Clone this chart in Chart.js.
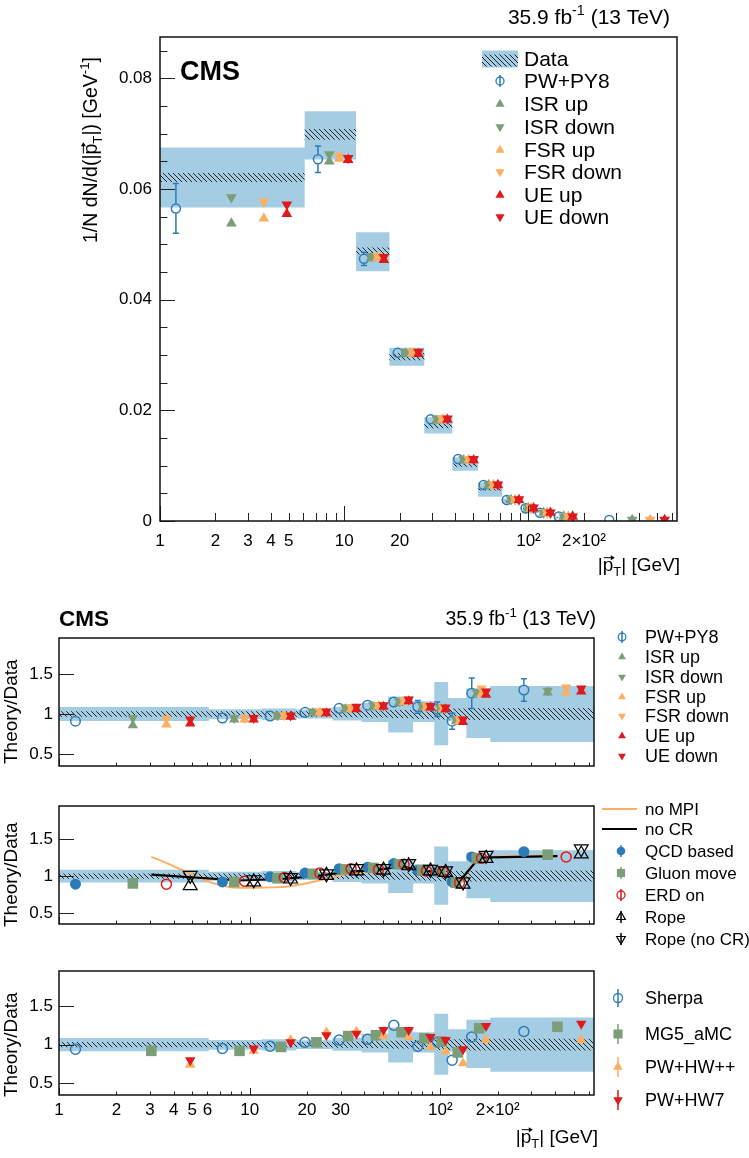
<!DOCTYPE html>
<html>
<head>
<meta charset="utf-8">
<title>CMS |pT| distribution</title>
<script src="https://cdn.jsdelivr.net/npm/chart.js@4.4.1/dist/chart.umd.min.js"></script>
<style>
  html, body { margin: 0; padding: 0; background: #fff; }
  #page { position: relative; width: 749px; height: 1158px; overflow: hidden; }
  #page canvas { position: absolute; left: 0; }
</style>
</head>
<body>
<div id="page">
  <canvas id="mainChart" width="749" height="590" style="top:0px"></canvas>
  <canvas id="ratioPy8" width="749" height="200" style="top:590px"></canvas>
  <canvas id="ratioCR" width="749" height="170" style="top:790px"></canvas>
  <canvas id="ratioGen" width="749" height="198" style="top:960px"></canvas>
</div>
<script>
// ---- binning and measurement ----
const X_MIN = 1, X_MAX = 640;
const binEdges = [0, 6.1, 11.6, 17.6, 27.2, 38.6, 53.3, 72, 93, 110, 137, 183, 640];
const dataVal = [0.0621, 0.0699, 0.0488, 0.0297, 0.0172, 0.0101, 0.0057, 0.0035, 0.0022, 0.00165, 0.00063, 0.00015];
const relTotUp   = [0.087, 0.06, 0.07, 0.055, 0.09, 0.14, 0.22, 0.16, 0.4, 0.2, 0.32, 0.35];
const relTotDown = [0.087, 0.065, 0.075, 0.055, 0.08, 0.1, 0.23, 0.1, 0.39, 0.09, 0.3, 0.35];
const relStatTop   = [0.013, 0.014, 0.013, 0.022, 0.025, 0.03, 0.035, 0.04, 0.05, 0.05, 0.06, 0.06];
const relStatRatio = [0.035, 0.035, 0.035, 0.035, 0.04, 0.045, 0.05, 0.06, 0.07, 0.07, 0.075, 0.075];

// ---- top panel predictions ----
const pwpy8Top    = [0.0565, 0.0654, 0.0474, 0.0304, 0.0184, 0.0112, 0.0065, 0.0038, 0.0023, 0.0015, 0.0008, 0.0002];
const pwpy8TopErr = [0.0045, 0.0024, 0.0012, 0.0004, 0.0003, 0.0002, 0.0002, 0.0002, 0.0001, 0.0001, 0.0001, 0.00003];
const isrUpTop    = [0.0538, 0.0650, 0.0475, 0.0302, 0.0182, 0.0110, 0.0065, 0.0038, 0.0023, 0.0015, 0.0008, 0.0002];
const isrDownTop  = [0.0585, 0.0663, 0.0479, 0.0306, 0.0185, 0.0112, 0.0066, 0.0039, 0.0024, 0.0015, 0.0008, 0.0002];
const fsrUpTop    = [0.0547, 0.0655, 0.0476, 0.0303, 0.0183, 0.0111, 0.0065, 0.0038, 0.0023, 0.0015, 0.0008, 0.0002];
const fsrDownTop  = [0.0577, 0.0660, 0.0479, 0.0306, 0.0185, 0.0112, 0.0066, 0.0039, 0.0024, 0.0015, 0.0008, 0.0002];
const ueUpTop     = [0.0555, 0.0653, 0.0472, 0.0302, 0.0183, 0.0110, 0.0065, 0.0038, 0.0023, 0.0015, 0.0008, 0.0002];
const ueDownTop   = [0.0572, 0.0656, 0.0477, 0.0306, 0.0185, 0.0112, 0.0066, 0.0039, 0.0024, 0.0015, 0.0008, 0.0002];

// ---- ratio panel 1: PW+PY8 variations ----
const r1PwPy8    = [0.91, 0.95, 0.975, 1.02, 1.07, 1.11, 1.15, 1.09, 1.06, 0.91, 1.26, 1.30];
const r1PwPy8Err = [0.02, 0.01, 0.01, 0.01, 0.01, 0.015, 0.02, 0.08, 0.09, 0.1, 0.19, 0.14];
const r1IsrUp    = [0.86, 0.93, 0.97, 1.01, 1.06, 1.09, 1.14, 1.08, 1.06, 0.91, 1.25, 1.27];
const r1IsrDown  = [0.95, 0.95, 0.985, 1.03, 1.08, 1.11, 1.16, 1.10, 1.08, 0.93, 1.27, 1.29];
const r1FsrUp    = [0.87, 0.93, 0.975, 1.02, 1.06, 1.10, 1.15, 1.08, 1.06, 0.91, 1.25, 1.27];
const r1FsrDown  = [0.94, 0.95, 0.985, 1.03, 1.08, 1.11, 1.17, 1.10, 1.08, 0.93, 1.32, 1.33];
const r1UeUp     = [0.88, 0.93, 0.965, 1.01, 1.06, 1.09, 1.16, 1.08, 1.06, 0.90, 1.24, 1.28];
const r1UeDown   = [0.93, 0.95, 0.98, 1.03, 1.09, 1.11, 1.18, 1.10, 1.08, 0.93, 1.28, 1.32];

// ---- ratio panel 2: colour reconnection models ----
const r2Qcd      = [0.89, 0.92, 0.99, 1.04, 1.10, 1.12, 1.17, 1.08, 1.06, 0.92, 1.26, 1.33];
const r2Gluon    = [0.90, 0.92, 0.97, 1.03, 1.09, 1.11, 1.16, 1.08, 1.06, 0.91, 1.24, 1.29];
const r2Erd      = [0.89, 0.93, 0.98, 1.04, 1.10, 1.09, 1.16, 1.07, 1.06, 0.91, 1.24, 1.26];
const r2Rope     = [0.87, 0.92, 0.96, 1.01, 1.07, 1.08, 1.14, 1.07, 1.05, 0.89, 1.24, 1.30];
const r2RopeNoCR = [1.01, 0.95, 0.98, 1.03, 1.10, 1.10, 1.17, 1.09, 1.07, 0.92, 1.28, 1.37];
const r2NoMpi    = [1.26, 0.84, 0.85, 0.93, 1.03, 1.07, 1.13, 1.07, 1.05, 0.90, 1.25, 1.28];
const r2NoCR     = [1.02, 0.94, 0.96, 1.00, 1.06, 1.08, 1.13, 1.07, 1.05, 0.90, 1.25, 1.27];

// ---- ratio panel 3: other generators ----
const r3Sherpa    = [0.94, 0.95, 0.98, 1.03, 1.06, 1.07, 1.25, 0.98, 1.03, 0.80, 1.10, 1.17];
const r3SherpaErr = [0.01, 0.01, 0.01, 0.01, 0.01, 0.01, 0.02, 0.03, 0.04, 0.05, 0.06, 0.06];
const r3Mg5       = [0.92, 0.92, 0.97, 1.03, 1.11, 1.12, 1.16, 1.08, 1.04, 0.90, 1.21, 1.23];
const r3HwPP      = [0.74, 0.92, 1.06, 1.16, 1.17, 1.11, 1.10, 0.97, 0.91, 0.76, 1.06, 1.06];
const r3Hw7       = [0.80, 0.95, 1.03, 1.12, 1.14, 1.19, 1.19, 1.10, 1.06, 0.94, 1.24, 1.27];

// ---- axis ticks ----
const xTickValues = [];
[1, 10, 100].forEach(d => { for (let m = 1; m <= 9; m++) if (m * d <= X_MAX) xTickValues.push(m * d); });
const xLabelsTop = {1: '1', 2: '2', 3: '3', 4: '4', 5: '5', 10: '10', 20: '20', 100: '10²', 200: '2×10²'};
const xLabelsBottom = {1: '1', 2: '2', 3: '3', 4: '4', 5: '5', 6: '6', 10: '10', 20: '20', 30: '30', 100: '10²', 200: '2×10²'};
const yTicksTop = [];
for (let i = 0; i <= 17; i++) yTicksTop.push(+(i * 0.005).toFixed(3));
const yTicksRatio = [0.5, 1, 1.5];

// ---- style ----
const FONT = '"Liberation Sans", Arial, Helvetica, sans-serif';
const BAND = '#a4cde4';
const BLUE = '#2c7bb9';
const GREEN = '#7b9e78';
const ORANGE = '#fdae61';
const RED = '#df1a1d';

function makeHatch(ctx) {
  const t = document.createElement('canvas');
  t.width = 5; t.height = 5;
  const c = t.getContext('2d');
  c.strokeStyle = '#222';
  c.lineWidth = 1;
  c.beginPath();
  c.moveTo(-1, -1); c.lineTo(6, 6);
  c.moveTo(-1, 4); c.lineTo(1, 6);
  c.moveTo(4, -1); c.lineTo(6, 1);
  c.stroke();
  return ctx.createPattern(t, 'repeat');
}

function stepPoints(vals) {
  const pts = vals.map((v, i) => ({x: Math.max(binEdges[i], X_MIN), y: v}));
  pts.push({x: binEdges[binEdges.length - 1], y: vals[vals.length - 1]});
  return pts;
}
function inBin(i, f) { return binEdges[i] + f * (binEdges[i + 1] - binEdges[i]); }
function pts(vals, f) { return vals.map((v, i) => ({x: inBin(i, f), y: v})); }

function band(lo, hi, color) {
  const common = {type: 'line', stepped: 'before', borderWidth: 0, borderColor: 'rgba(0,0,0,0)', pointRadius: 0, layer: 'band'};
  return [
    Object.assign({data: stepPoints(hi), fill: false}, common),
    Object.assign({data: stepPoints(lo), fill: '-1', backgroundColor: color}, common)
  ];
}

function mk(data, style) {
  return Object.assign({
    type: 'scatter', data, pointStyle: 'circle', pointRadius: 5, pointRotation: 0,
    pointBackgroundColor: 'rgba(0,0,0,0)', pointBorderColor: '#000', pointBorderWidth: 0,
    layer: 'marker'
  }, style);
}
const openCircle = (c, r) => ({pointStyle: 'circle', pointRadius: r, pointBorderColor: c, pointBorderWidth: 1.5});
const tri = (c, r, down) => ({pointStyle: 'triangle', pointRadius: r, pointRotation: down ? 180 : 0,
  pointBackgroundColor: c, pointBorderColor: c});
const openTri = (c, r, down) => ({pointStyle: 'triangle', pointRadius: r, pointRotation: down ? 180 : 0,
  pointBorderColor: c, pointBorderWidth: 1.2});

function ordered(list) {
  list.forEach((d, i) => {
    const base = d.layer === 'band' ? 3000 : d.layer === 'line' ? 2000 : 1000;
    d.order = base - i;
  });
  return list;
}

// ---- drawing helpers ----
function drawRich(ctx, t) {
  const size = t.size;
  const segs = t.parts.map(p => (typeof p === 'string' ? {t: p} : Object.assign({}, p)));
  const fontFor = s => (t.bold ? 'bold ' : '') + ((s.sup || s.sub) ? size * 0.68 : size) + 'px ' + FONT;
  let total = 0;
  segs.forEach(s => { ctx.font = fontFor(s); s.w = ctx.measureText(s.t).width; total += s.w; });
  ctx.save();
  ctx.translate(t.x, t.y);
  if (t.rotate) ctx.rotate(-Math.PI / 2);
  let cx = t.align === 'right' ? -total : t.align === 'center' ? -total / 2 : 0;
  ctx.fillStyle = '#000';
  ctx.strokeStyle = '#000';
  ctx.textAlign = 'left';
  ctx.textBaseline = 'alphabetic';
  segs.forEach(s => {
    ctx.font = fontFor(s);
    const dy = s.sup ? -size * 0.42 : s.sub ? size * 0.28 : 0;
    ctx.fillText(s.t, cx, dy);
    if (s.vec) {
      const ay = -size * 0.7;
      ctx.lineWidth = 1;
      ctx.beginPath(); ctx.moveTo(cx + 1, ay); ctx.lineTo(cx + s.w, ay); ctx.stroke();
      ctx.beginPath();
      ctx.moveTo(cx + s.w + 1.5, ay);
      ctx.lineTo(cx + s.w - 2.5, ay - 2.5);
      ctx.lineTo(cx + s.w - 2.5, ay + 2.5);
      ctx.closePath(); ctx.fill();
    }
    cx += s.w;
  });
  ctx.restore();
}

function drawMarker(ctx, m, y) {
  if (m.bar) {
    ctx.strokeStyle = m.stroke || m.fill;
    ctx.lineWidth = 1.5;
    ctx.beginPath(); ctx.moveTo(m.x, y - m.bar); ctx.lineTo(m.x, y + m.bar); ctx.stroke();
  }
  ctx.beginPath();
  if (m.style === 'circle') {
    ctx.arc(m.x, y, m.r, 0, Math.PI * 2);
  } else if (m.style === 'rect') {
    const s = m.r * Math.SQRT1_2;
    ctx.rect(m.x - s, y - s, 2 * s, 2 * s);
  } else {
    let a = (m.rot || 0) * Math.PI / 180;
    for (let k = 0; k < 3; k++) {
      const px = m.x + Math.sin(a) * m.r, py = y - Math.cos(a) * m.r;
      if (k === 0) ctx.moveTo(px, py); else ctx.lineTo(px, py);
      a += Math.PI * 2 / 3;
    }
    ctx.closePath();
  }
  if (m.fill) { ctx.fillStyle = m.fill; ctx.fill(); }
  if (m.stroke) { ctx.strokeStyle = m.stroke; ctx.lineWidth = m.bw || 1.3; ctx.stroke(); }
}

function drawLegend(ctx, items, hatch) {
  items.forEach(it => {
    ctx.save();
    const m = it.marker;
    if (m.kind === 'band') {
      ctx.fillStyle = BAND;
      ctx.fillRect(m.x0, it.y - m.h / 2, m.x1 - m.x0, m.h);
      ctx.fillStyle = hatch;
      ctx.fillRect(m.x0, it.y - m.h / 2 + 4, m.x1 - m.x0, m.h - 5);
    } else if (m.kind === 'line') {
      ctx.strokeStyle = m.color; ctx.lineWidth = m.w;
      ctx.beginPath(); ctx.moveTo(m.x0, it.y); ctx.lineTo(m.x1, it.y); ctx.stroke();
    } else {
      drawMarker(ctx, m, it.y);
    }
    ctx.fillStyle = '#000';
    ctx.font = it.size + 'px ' + FONT;
    ctx.textAlign = 'left';
    ctx.textBaseline = 'middle';
    ctx.fillText(it.label, it.tx, it.y + 1);
    ctx.restore();
  });
}

const errorBars = {
  id: 'errorBars',
  afterDatasetsDraw(chart) {
    const {ctx, chartArea: a} = chart;
    const ys = chart.scales.y;
    ctx.save();
    ctx.beginPath(); ctx.rect(a.left, a.top, a.right - a.left, a.bottom - a.top); ctx.clip();
    chart.data.datasets.forEach((ds, di) => {
      if (!ds.errs) return;
      const meta = chart.getDatasetMeta(di);
      ctx.strokeStyle = ds.pointBorderColor;
      ctx.lineWidth = 1.5;
      meta.data.forEach((el, i) => {
        const v = ds.data[i].y, e = ds.errs[i];
        const yHi = ys.getPixelForValue(v + e), yLo = ys.getPixelForValue(v - e);
        const r = ds.pointRadius + 0.5;
        ctx.beginPath();
        if (yHi < el.y - r) {
          ctx.moveTo(el.x, yHi); ctx.lineTo(el.x, el.y - r);
          ctx.moveTo(el.x - 3, yHi); ctx.lineTo(el.x + 3, yHi);
        }
        if (yLo > el.y + r) {
          ctx.moveTo(el.x, el.y + r); ctx.lineTo(el.x, yLo);
          ctx.moveTo(el.x - 3, yLo); ctx.lineTo(el.x + 3, yLo);
        }
        ctx.stroke();
      });
    });
    ctx.restore();
  }
};

function decor(cfg, hatch) {
  return {
    id: 'decor',
    afterDraw(chart) {
      const {ctx, chartArea: a, scales: {x, y}} = chart;
      ctx.save();
      ctx.strokeStyle = '#222';
      ctx.lineWidth = 1;
      ctx.beginPath();
      x.ticks.forEach(t => {
        const px = Math.round(x.getPixelForValue(t.value)) + 0.5;
        const lg = Math.log10(t.value);
        const len = Math.abs(lg - Math.round(lg)) < 1e-9 ? cfg.tick.xMajor : cfg.tick.xMinor;
        ctx.moveTo(px, a.bottom); ctx.lineTo(px, a.bottom - len);
      });
      y.ticks.forEach(t => {
        const py = Math.round(y.getPixelForValue(t.value)) + 0.5;
        const q = t.value / cfg.yMajorStep;
        const len = Math.abs(q - Math.round(q)) < 1e-6 ? cfg.tick.yMajor : cfg.tick.yMinor;
        ctx.moveTo(a.left, py); ctx.lineTo(a.left + len, py);
      });
      ctx.stroke();
      ctx.strokeStyle = '#111';
      ctx.lineWidth = 1.5;
      ctx.strokeRect(a.left, a.top, a.right - a.left, a.bottom - a.top);
      ctx.restore();
      cfg.texts.forEach(t => drawRich(ctx, t));
      drawLegend(ctx, cfg.legend, hatch);
    }
  };
}

function buildPanel(id, cfg) {
  const ctx = document.getElementById(id).getContext('2d');
  const hatch = makeHatch(ctx);
  const datasets = ordered(cfg.datasets(hatch));
  return new Chart(ctx, {
    type: 'scatter',
    data: {datasets},
    options: {
      responsive: false,
      animation: false,
      devicePixelRatio: 1,
      events: [],
      layout: {padding: cfg.padding},
      plugins: {legend: {display: false}, tooltip: {enabled: false}},
      scales: {
        x: {
          type: 'logarithmic', min: X_MIN, max: X_MAX, bounds: 'data',
          grid: {display: false, drawTicks: false}, border: {display: false},
          afterBuildTicks: s => { s.ticks = xTickValues.map(v => ({value: v})); },
          afterFit: s => { s.height = cfg.xAxisHeight; s.paddingLeft = 0; s.paddingRight = 0; },
          ticks: {
            display: !!cfg.xLabels, autoSkip: false, maxRotation: 0, minRotation: 0,
            padding: cfg.xTickPad, color: '#000', font: {family: FONT, size: 17},
            callback: v => (cfg.xLabels && cfg.xLabels[v]) || ''
          }
        },
        y: {
          type: 'linear', min: cfg.yMin, max: cfg.yMax, bounds: 'data',
          grid: {display: false, drawTicks: false}, border: {display: false},
          afterBuildTicks: s => { s.ticks = cfg.yTicks.map(v => ({value: v})); },
          afterFit: s => { s.width = cfg.yAxisWidth; s.paddingTop = 0; s.paddingBottom = 0; },
          ticks: {
            autoSkip: false, padding: cfg.yTickPad, color: '#000', font: {family: FONT, size: 17},
            callback: cfg.yLabel
          }
        }
      }
    },
    plugins: [errorBars, decor(cfg, hatch)]
  });
}

const pTtitle = ['|', {t: 'p', vec: true}, {t: 'T', sub: true}, '| [GeV]'];
const lumi = ['35.9 fb', {t: '-1', sup: true}, ' (13 TeV)'];
const ratioTick = {xMajor: 7, xMinor: 3.5, yMajor: 15, yMinor: 0};
const ratioY = v => String(v);

// ---- main distribution ----
buildPanel('mainChart', {
  padding: {left: 100, right: 72, top: 37, bottom: 29},
  yAxisWidth: 60, xAxisHeight: 40, xTickPad: 10, yTickPad: 8,
  yMin: 0, yMax: 0.0875, yTicks: yTicksTop, yMajorStep: 0.02,
  yLabel: v => { const q = v / 0.02; return Math.abs(q - Math.round(q)) < 1e-6 ? (v === 0 ? '0' : v.toFixed(2)) : ''; },
  xLabels: xLabelsTop,
  tick: {xMajor: 15, xMinor: 8, yMajor: 15, yMinor: 7.5},
  datasets: hatch => [
    ...band(dataVal.map((v, i) => v * (1 - relTotDown[i])), dataVal.map((v, i) => v * (1 + relTotUp[i])), BAND),
    ...band(dataVal.map((v, i) => v * (1 - relStatTop[i])), dataVal.map((v, i) => v * (1 + relStatTop[i])), hatch),
    mk(pts(pwpy8Top, 0.2), Object.assign(openCircle(BLUE, 4.5), {errs: pwpy8TopErr})),
    mk(pts(isrUpTop, 0.4), tri(GREEN, 6.2, false)),
    mk(pts(isrDownTop, 0.4), tri(GREEN, 6.2, true)),
    mk(pts(fsrUpTop, 0.6), tri(ORANGE, 6.2, false)),
    mk(pts(fsrDownTop, 0.6), tri(ORANGE, 6.2, true)),
    mk(pts(ueUpTop, 0.8), tri(RED, 6.2, false)),
    mk(pts(ueDownTop, 0.8), tri(RED, 6.2, true))
  ],
  texts: [
    {parts: ['CMS'], x: 180, y: 80, size: 27, bold: true},
    {parts: lumi, x: 670, y: 24, size: 21, align: 'right'},
    {parts: ['1/N dN/d(|', {t: 'p', vec: true}, {t: 'T', sub: true}, '|) [GeV', {t: '-1', sup: true}, ']'],
      x: 97, y: 57, size: 19.5, align: 'right', rotate: true},
    {parts: pTtitle, x: 680, y: 571, size: 19, align: 'right'}
  ],
  legend: [
    {label: 'Data', y: 59, tx: 524, size: 21, marker: {kind: 'band', x0: 482, x1: 518, h: 17}},
    {label: 'PW+PY8', y: 81, tx: 524, size: 21, marker: {x: 500, style: 'circle', r: 4, stroke: BLUE, bw: 1.3, bar: 6}},
    {label: 'ISR up', y: 104, tx: 524, size: 21, marker: {x: 500, style: 'triangle', r: 5.3, fill: GREEN}},
    {label: 'ISR down', y: 127, tx: 524, size: 21, marker: {x: 500, style: 'triangle', r: 5.3, rot: 180, fill: GREEN}},
    {label: 'FSR up', y: 150, tx: 524, size: 21, marker: {x: 500, style: 'triangle', r: 5.3, fill: ORANGE}},
    {label: 'FSR down', y: 172, tx: 524, size: 21, marker: {x: 500, style: 'triangle', r: 5.3, rot: 180, fill: ORANGE}},
    {label: 'UE up', y: 195, tx: 524, size: 21, marker: {x: 500, style: 'triangle', r: 5.3, fill: RED}},
    {label: 'UE down', y: 217, tx: 524, size: 21, marker: {x: 500, style: 'triangle', r: 5.3, rot: 180, fill: RED}}
  ]
});

const ratioBands = hatch => [
  ...band(relTotDown.map(r => 1 - r), relTotUp.map(r => 1 + r), BAND),
  ...band(relStatRatio.map(r => 1 - r), relStatRatio.map(r => 1 + r), hatch)
];
const ratioCommon = {
  yAxisWidth: 50, yTickPad: 6, yMin: 0.35, yMax: 1.95, yTicks: yTicksRatio, yMajorStep: 0.5,
  yLabel: ratioY, tick: ratioTick
};

// ---- ratio 1: PW+PY8 and its variations ----
buildPanel('ratioPy8', Object.assign({}, ratioCommon, {
  padding: {left: 9, right: 155, top: 48, bottom: 14},
  xAxisHeight: 10, xTickPad: 0, xLabels: null,
  datasets: hatch => [
    ...ratioBands(hatch),
    mk(pts(r1PwPy8, 0.2), Object.assign(openCircle(BLUE, 4.8), {errs: r1PwPy8Err})),
    mk(pts(r1IsrUp, 0.4), tri(GREEN, 6, false)),
    mk(pts(r1IsrDown, 0.4), tri(GREEN, 6, true)),
    mk(pts(r1FsrUp, 0.6), tri(ORANGE, 6, false)),
    mk(pts(r1FsrDown, 0.6), tri(ORANGE, 6, true)),
    mk(pts(r1UeUp, 0.8), tri(RED, 6, false)),
    mk(pts(r1UeDown, 0.8), tri(RED, 6, true))
  ],
  texts: [
    {parts: ['CMS'], x: 59, y: 36, size: 22.5, bold: true},
    {parts: lumi, x: 596, y: 35, size: 19.5, align: 'right'},
    {parts: ['Theory/Data'], x: 17, y: 174, size: 19, rotate: true}
  ],
  legend: [
    {label: 'PW+PY8', y: 47, tx: 645, size: 18, marker: {x: 622, style: 'circle', r: 3.8, stroke: BLUE, bw: 1.3, bar: 6}},
    {label: 'ISR up', y: 67, tx: 645, size: 18, marker: {x: 622, style: 'triangle', r: 4.5, fill: GREEN}},
    {label: 'ISR down', y: 87, tx: 645, size: 18, marker: {x: 622, style: 'triangle', r: 4.5, rot: 180, fill: GREEN}},
    {label: 'FSR up', y: 107, tx: 645, size: 18, marker: {x: 622, style: 'triangle', r: 4.5, fill: ORANGE}},
    {label: 'FSR down', y: 126, tx: 645, size: 18, marker: {x: 622, style: 'triangle', r: 4.5, rot: 180, fill: ORANGE}},
    {label: 'UE up', y: 146, tx: 645, size: 18, marker: {x: 622, style: 'triangle', r: 4.5, fill: RED}},
    {label: 'UE down', y: 166, tx: 645, size: 18, marker: {x: 622, style: 'triangle', r: 4.5, rot: 180, fill: RED}}
  ]
}));

// ---- ratio 2: colour reconnection / MPI ----
buildPanel('ratioCR', Object.assign({}, ratioCommon, {
  padding: {left: 9, right: 155, top: 16, bottom: 26},
  xAxisHeight: 10, xTickPad: 0, xLabels: null,
  datasets: hatch => [
    ...ratioBands(hatch),
    {type: 'line', data: pts(r2NoMpi, 0.5), borderColor: ORANGE, borderWidth: 2, pointRadius: 0,
      fill: false, cubicInterpolationMode: 'monotone', layer: 'line'},
    {type: 'line', data: pts(r2NoCR, 0.5), borderColor: '#000', borderWidth: 2.2, pointRadius: 0,
      fill: false, layer: 'line'},
    mk(pts(r2Qcd, 0.2), {pointStyle: 'circle', pointRadius: 5.5, pointBackgroundColor: BLUE, pointBorderColor: BLUE}),
    mk(pts(r2Gluon, 0.4), {pointStyle: 'rect', pointRadius: 7.5, pointBackgroundColor: GREEN, pointBorderColor: GREEN}),
    mk(pts(r2Erd, 0.6), openCircle(RED, 5)),
    mk(pts(r2Rope, 0.8), openTri('#000', 8, false)),
    mk(pts(r2RopeNoCR, 0.8), openTri('#000', 8, true))
  ],
  texts: [
    {parts: ['Theory/Data'], x: 17, y: 137, size: 19, rotate: true}
  ],
  legend: [
    {label: 'no MPI', y: 19, tx: 645, size: 17, marker: {kind: 'line', x0: 602, x1: 637, color: ORANGE, w: 2}},
    {label: 'no CR', y: 39, tx: 645, size: 17, marker: {kind: 'line', x0: 602, x1: 637, color: '#000', w: 2.2}},
    {label: 'QCD based', y: 61, tx: 645, size: 17, marker: {x: 621, style: 'circle', r: 4.3, fill: BLUE, bar: 6}},
    {label: 'Gluon move', y: 83, tx: 645, size: 17, marker: {x: 621, style: 'rect', r: 5.8, fill: GREEN, bar: 6}},
    {label: 'ERD on', y: 105, tx: 645, size: 17, marker: {x: 621, style: 'circle', r: 4, stroke: RED, bw: 1.3, bar: 6}},
    {label: 'Rope', y: 127, tx: 645, size: 17, marker: {x: 621, style: 'triangle', r: 5, stroke: '#000', bw: 1.2, bar: 6}},
    {label: 'Rope (no CR)', y: 149, tx: 645, size: 17, marker: {x: 621, style: 'triangle', r: 5, rot: 180, stroke: '#000', bw: 1.2, bar: 6}}
  ]
}));

// ---- ratio 3: other generators ----
buildPanel('ratioGen', Object.assign({}, ratioCommon, {
  padding: {left: 9, right: 155, top: 11, bottom: 23},
  xAxisHeight: 40, xTickPad: 5, xLabels: xLabelsBottom,
  datasets: hatch => [
    ...ratioBands(hatch),
    mk(pts(r3Sherpa, 0.2), Object.assign(openCircle(BLUE, 5), {errs: r3SherpaErr})),
    mk(pts(r3Mg5, 0.5), {pointStyle: 'rect', pointRadius: 7.5, pointBackgroundColor: GREEN, pointBorderColor: GREEN}),
    mk(pts(r3HwPP, 0.8), tri(ORANGE, 6, false)),
    mk(pts(r3Hw7, 0.8), tri(RED, 6, true))
  ],
  texts: [
    {parts: ['Theory/Data'], x: 17, y: 137, size: 19, rotate: true},
    {parts: pTtitle, x: 598, y: 183, size: 19, align: 'right'}
  ],
  legend: [
    {label: 'Sherpa', y: 38, tx: 645, size: 18, marker: {x: 618, style: 'circle', r: 4.5, stroke: BLUE, bw: 1.3, bar: 9}},
    {label: 'MG5_aMC', y: 74, tx: 645, size: 18, marker: {x: 618, style: 'rect', r: 6.4, fill: GREEN, bar: 10}},
    {label: 'PW+HW++', y: 107, tx: 645, size: 18, marker: {x: 618, style: 'triangle', r: 5.5, fill: ORANGE, bar: 10}},
    {label: 'PW+HW7', y: 140, tx: 645, size: 18, marker: {x: 618, style: 'triangle', r: 5.5, rot: 180, fill: RED, bar: 10}}
  ]
}));
</script>
</body>
</html>
